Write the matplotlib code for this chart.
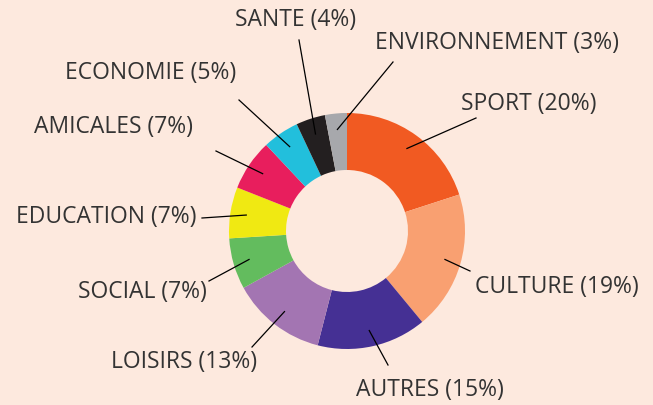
import numpy as np
import matplotlib
matplotlib.use('Agg')
import matplotlib.pyplot as plt

# donnees
categories = ['SPORT', 'CULTURE', 'AUTRES', 'LOISIRS', 'SOCIAL', 'EDUCATION',
              'AMICALES', 'ECONOMIE', 'SANTE', 'ENVIRONNEMENT']
valeurs = [20, 19, 15, 13, 7, 7, 7, 5, 4, 3]
couleurs = ['#F15A22', '#F9A071', '#453094', '#A375B2', '#63BC5E', '#F0E912',
            '#E81E5D', '#22BFDC', '#231F20', '#A7A8AC']

# positions des etiquettes (pixels image) et bout des traits
pos_texte = [(529, 104), (557, 287), (430, 390), (184, 362), (142, 292),
             (106, 217), (113, 127), (151, 73), (296, 20), (497, 43)]
bout_trait = [(476, 118), (470, 271), (388, 365), (252, 347), (209, 281),
              (202, 218), (216, 151), (239, 100), (299, 40), (393, 62)]

W, H = 653, 405
fond = '#FDE9DE'
cx, cy, R, largeur = 347, 231, 118, 57

fig = plt.figure(figsize=(W / 100, H / 100), dpi=100, facecolor=fond)
ax = fig.add_axes([0, 0, 1, 1])
ax.set_facecolor(fond)

wedges, _ = ax.pie(valeurs, colors=couleurs, startangle=90, counterclock=False,
                   radius=R, center=(cx, H - cy),
                   wedgeprops=dict(width=largeur, edgecolor='none'))
ax.set_xlim(0, W)
ax.set_ylim(0, H)
ax.set_aspect('equal')
ax.axis('off')

r_trait = 102
for w, cat, val, (tx, ty), (bx, by) in zip(wedges, categories, valeurs, pos_texte, bout_trait):
    ang = np.deg2rad((w.theta1 + w.theta2) / 2)
    x0 = cx + r_trait * np.cos(ang)
    y0 = (H - cy) + r_trait * np.sin(ang)
    ax.plot([x0, bx], [y0, H - by], color='black', lw=0.9)
    ax.text(tx, H - ty, f'{cat} ({val}%)', ha='center', va='center',
            fontsize=16.5, family='Open Sans', color='#333333')

plt.savefig('out.png', dpi=100, facecolor=fond)
